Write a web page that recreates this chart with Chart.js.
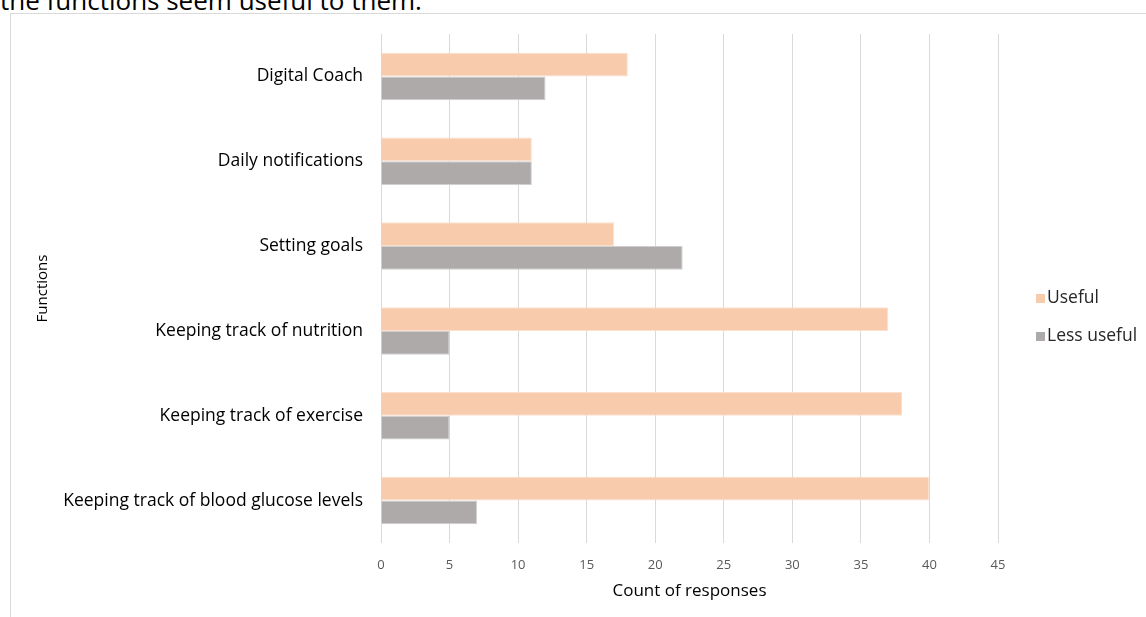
<!DOCTYPE html>
<html>
<head>
<meta charset="utf-8">
<script src="https://cdn.jsdelivr.net/npm/chart.js@4"></script>
<style>
  html, body { margin: 0; padding: 0; background: #fff; overflow: hidden; }
  body { width: 1146px; height: 617px; position: relative; font-family: "Open Sans", sans-serif; }
  #caption { position: absolute; left: 0; top: -18px; font-size: 26px; color: #000; white-space: nowrap; line-height: 36px; }
  #frame { position: absolute; left: 10px; top: 13px; width: 1150px; height: 620px; border-top: 1px solid #d9d9d9; border-left: 1px solid #d9d9d9; }
  #wrap { position: absolute; left: 0; top: 0; width: 1146px; height: 617px; }
  #legend { position: absolute; left: 1036px; top: 284px; font-size: 17.5px; color: #262626; }
  #legend div { height: 38px; line-height: 24px; white-space: nowrap; }
  #legend span.box { display: inline-block; width: 9px; height: 9px; margin-right: 2px; vertical-align: 0px; }
</style>
</head>
<body>
<div id="caption">the functions seem useful to them.</div>
<div id="frame"></div>
<div id="wrap"><canvas id="chart"></canvas></div>
<div id="legend"></div>
<script>
  // Data (top to bottom)
  const functions = [
    'Digital Coach',
    'Daily notifications',
    'Setting goals',
    'Keeping track of nutrition',
    'Keeping track of exercise',
    'Keeping track of blood glucose levels'
  ];
  const usefulCounts = [18, 11, 17, 37, 38, 40];
  const lessUsefulCounts = [12, 11, 22, 5, 5, 7];
  const xTicks = [0, 5, 10, 15, 20, 25, 30, 35, 40, 45];

  const datasets = [
    {
      label: 'Useful',
      data: usefulCounts,
      backgroundColor: '#F8CBAD',
      borderColor: '#FBE0CE',
      borderWidth: 1
    },
    {
      label: 'Less useful',
      data: lessUsefulCounts,
      backgroundColor: '#AEAAAA',
      borderColor: '#D0CECE',
      borderWidth: 1
    }
  ];

  const padLeft = 32;

  const chart = new Chart(document.getElementById('chart'), {
    type: 'bar',
    data: { labels: functions, datasets: datasets },
    options: {
      indexAxis: 'y',
      responsive: true,
      maintainAspectRatio: false,
      animation: false,
      categoryPercentage: 0.56,
      barPercentage: 1.0,
      layout: { padding: { top: 34, left: padLeft, right: 148, bottom: 16 } },
      plugins: {
        legend: { display: false },
        tooltip: { enabled: false }
      },
      scales: {
        x: {
          min: xTicks[0],
          max: xTicks[xTicks.length - 1],
          ticks: { stepSize: 5, padding: 14, color: '#595959', font: { family: 'Open Sans', size: 13 } },
          grid: { color: '#d9d9d9', drawTicks: false },
          border: { display: false },
          title: {
            display: true,
            text: 'Count of responses',
            color: '#000',
            font: { family: 'Open Sans', size: 17 },
            padding: { top: -6, bottom: 0 }
          }
        },
        y: {
          ticks: { padding: 18, color: '#000', font: { family: 'Open Sans', size: 17.5 } },
          grid: { display: false, drawTicks: false },
          border: { display: false },
          title: {
            display: true,
            text: 'Functions',
            color: '#000',
            font: { family: 'Open Sans', size: 15 },
            padding: 2
          },
          afterFit: function(scale) { scale.width = 381 - padLeft; }
        }
      }
    }
  });

  // HTML legend from the datasets
  const legend = document.getElementById('legend');
  datasets.forEach(ds => {
    const row = document.createElement('div');
    row.innerHTML = '<span class="box" style="background:' + ds.backgroundColor + '"></span>' + ds.label;
    legend.appendChild(row);
  });
</script>
</body>
</html>
